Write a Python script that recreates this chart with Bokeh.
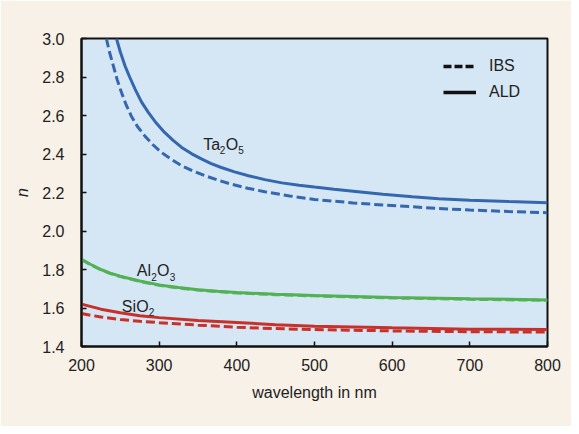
from bokeh.plotting import figure
from bokeh.models import (ColumnDataSource, FixedTicker, Legend, LegendItem,
                          NumeralTickFormatter)
from bokeh.core.properties import value
from bokeh.embed import file_html
from bokeh.resources import INLINE

# ---------------- data ----------------
ta_ald_wl = [245, 250, 256, 262, 269, 277, 286, 296, 307, 318, 329, 342, 355, 367, 380,
             397, 415, 436, 458, 480, 500, 525, 550, 588, 626, 660, 700, 750, 800]
ta_ald_n = [3.00, 2.93, 2.858, 2.80, 2.737, 2.672, 2.616, 2.562, 2.512, 2.471, 2.434, 2.401, 2.373, 2.350, 2.330,
            2.307, 2.287, 2.267, 2.250, 2.238, 2.228, 2.217, 2.207, 2.191, 2.178, 2.168, 2.160, 2.153, 2.147]

ta_ibs_wl = [232, 236, 241, 246, 251.5, 257.5, 264, 272, 281.5, 292, 303, 316, 329, 344, 359,
             376, 393, 414, 436, 468, 500, 550, 588, 626, 660, 700, 750, 800]
ta_ibs_n = [3.00, 2.93, 2.858, 2.785, 2.719, 2.655, 2.598, 2.543, 2.494, 2.448, 2.408, 2.371, 2.339, 2.311, 2.287,
            2.264, 2.243, 2.222, 2.204, 2.182, 2.164, 2.146, 2.135, 2.126, 2.117, 2.109, 2.101, 2.095]

al_ald_wl = [200, 212, 225, 237, 250, 275, 300, 325, 350, 375, 400, 450, 500, 550, 600, 700, 800]
al_ald_n = [1.853, 1.826, 1.800, 1.781, 1.765, 1.740, 1.720, 1.706, 1.695, 1.687, 1.680, 1.671, 1.665, 1.660, 1.655, 1.648, 1.642]

al_ibs_wl = [200, 212, 225, 237, 250, 275, 300, 325, 350, 375, 400, 450, 500, 550, 600, 700, 800]
al_ibs_n = [1.851, 1.824, 1.798, 1.779, 1.763, 1.738, 1.718, 1.704, 1.693, 1.685, 1.678, 1.669, 1.663, 1.657, 1.652, 1.645, 1.640]

si_ald_wl = [200, 225, 250, 275, 300, 350, 400, 450, 500, 600, 700, 800]
si_ald_n = [1.620, 1.594, 1.575, 1.560, 1.550, 1.535, 1.525, 1.513, 1.505, 1.497, 1.490, 1.488]

si_ibs_wl = [200, 225, 250, 275, 300, 350, 400, 450, 500, 600, 700, 800]
si_ibs_n = [1.571, 1.553, 1.540, 1.531, 1.524, 1.511, 1.500, 1.493, 1.488, 1.481, 1.477, 1.475]

x_ticks = [200, 300, 400, 500, 600, 700, 800]
y_ticks = [1.4, 1.6, 1.8, 2.0, 2.2, 2.4, 2.6, 2.8, 3.0]

# compound labels: anchor (wavelength, n) of the text baseline-left
label_names = ["Ta2O5", "Al2O3", "SiO2"]
label_wl = [356.7, 271.2, 251.9]
label_n = [2.451, 1.793, 1.608]

# ---------------- styling ----------------
FONT = "Liberation Sans Narrow, Liberation Sans"
BLUE = "#3467ae"
GREEN = "#52b154"
RED = "#c8302a"
PLOT_BG = "#d5e6f4"
PAGE_BG = "#f8f1e7"
INK = "#222222"

p = figure(width=571, height=426, x_range=(200, 800), y_range=(1.4, 3.0),
           output_backend="svg", toolbar_location=None,
           min_border_left=81, min_border_right=24, min_border_top=38, min_border_bottom=80)
p.background_fill_color = PLOT_BG
p.border_fill_color = PAGE_BG
p.outline_line_color = "#111111"
p.outline_line_width = 2
p.grid.visible = False

for ax in (p.xaxis[0], p.yaxis[0]):
    ax.axis_line_color = "#111111"
    ax.axis_line_width = 2
    ax.major_tick_in = 5
    ax.major_tick_out = 0
    ax.major_tick_line_color = "#111111"
    ax.major_tick_line_width = 1.5
    ax.minor_tick_line_color = None
    ax.major_label_text_font = FONT
    ax.major_label_text_font_size = "16px"
    ax.major_label_text_color = INK
    ax.axis_label_text_font = FONT
    ax.axis_label_text_font_size = "16px"
    ax.axis_label_text_color = INK

p.xaxis.ticker = FixedTicker(ticks=x_ticks)
p.yaxis.ticker = FixedTicker(ticks=y_ticks)
p.yaxis.formatter = NumeralTickFormatter(format="0.0")
p.xaxis.axis_label = "wavelength in nm"
p.xaxis.axis_label_text_font_style = "normal"
p.yaxis.axis_label = "n"
p.yaxis.axis_label_text_font_style = "italic"
p.xaxis.major_label_standoff = 12
p.xaxis.axis_label_standoff = 10
p.yaxis.major_label_standoff = 17
p.yaxis.axis_label_standoff = 8
p.yaxis.major_label_orientation = "horizontal"

DASH = "9 4"
LW = 3

p.line(al_ald_wl, al_ald_n, line_color=GREEN, line_width=LW)
p.line(al_ibs_wl, al_ibs_n, line_color=GREEN, line_width=LW, line_dash=DASH, line_alpha=0.9)
p.line(si_ibs_wl, si_ibs_n, line_color=RED, line_width=LW, line_dash=DASH)
p.line(si_ald_wl, si_ald_n, line_color=RED, line_width=LW)
p.line(ta_ibs_wl, ta_ibs_n, line_color=BLUE, line_width=LW, line_dash=DASH)
p.line(ta_ald_wl, ta_ald_n, line_color=BLUE, line_width=LW)

# compound labels with subscripts (pieces offset in screen px)
pieces = {
    "Ta2O5": [("Ta", 0, 0, "16px"), ("2", 16.5, -6, "10px"), ("O", 22.5, 0, "16px"), ("5", 35, -6, "10px")],
    "Al2O3": [("Al", 0, 0, "16px"), ("2", 14.4, -6, "10px"), ("O", 20.3, 0, "16px"), ("3", 33, -6, "10px")],
    "SiO2": [("Si", 0, 0, "16px"), ("O", 14.4, 0, "16px"), ("2", 27, -6, "10px")],
}
tx, ty, tt, tox, toy, tfs = [], [], [], [], [], []
for name, wl, n in zip(label_names, label_wl, label_n):
    for txt, dx, dy, fs in pieces[name]:
        tx.append(wl); ty.append(n); tt.append(txt)
        tox.append(dx); toy.append(-dy); tfs.append(fs)
src = ColumnDataSource(dict(x=tx, y=ty, text=tt, xo=tox, yo=toy, fs=tfs))
p.text(x="x", y="y", text="text", x_offset="xo", y_offset="yo", text_font_size="fs",
       source=src, text_font=value(FONT), text_color=INK,
       text_align="left", text_baseline="alphabetic")

# legend (black line samples; renderers hold no visible data)
nan = float("nan")
dummy = ColumnDataSource(dict(x=[nan], y=[nan]))
r_ibs = p.line(x="x", y="y", source=dummy, line_color="#111111", line_width=3.5, line_dash="8 3")
r_ald = p.line(x="x", y="y", source=dummy, line_color="#111111", line_width=3.5)
legend = Legend(items=[LegendItem(label="IBS", renderers=[r_ibs]),
                       LegendItem(label="ALD", renderers=[r_ald])],
                location=(362, 244), background_fill_alpha=0, border_line_color=None,
                glyph_width=33, glyph_height=20, label_height=20, spacing=6,
                padding=0, margin=0, label_standoff=13,
                label_text_font=FONT, label_text_font_size="16px", label_text_color=INK)
p.add_layout(legend)

open("out.html", "w").write(file_html(p, INLINE))
